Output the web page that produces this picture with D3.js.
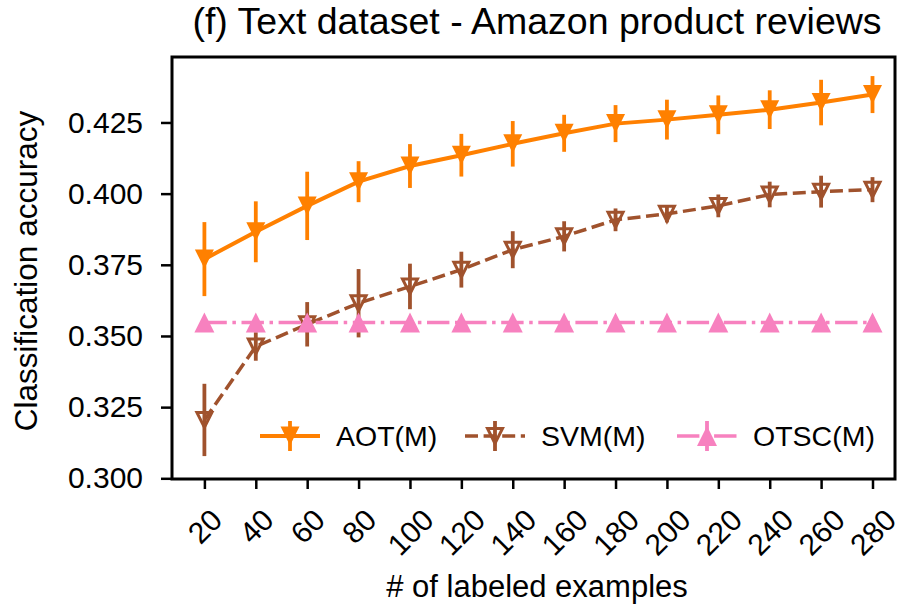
<!DOCTYPE html>
<html>
<head>
<meta charset="utf-8">
<script src="https://cdn.jsdelivr.net/npm/d3@7"></script>
<style>
  body { margin: 0; background: #fff; }
  svg { font-family: "Liberation Sans", Arial, sans-serif; }
</style>
</head>
<body>
<div class="chart"></div>
<script>
// labeled examples on the x axis
const xs = [20, 40, 60, 80, 100, 120, 140, 160, 180, 200, 220, 240, 260, 280]
const yTicks = [0.300, 0.325, 0.350, 0.375, 0.400, 0.425]

const aotMean = [0.3770, 0.3866, 0.3957, 0.4042, 0.4097, 0.4135, 0.4175, 0.4212, 0.4246, 0.4260, 0.4277, 0.4295, 0.4320, 0.4348]
const aotErr = [0.0130, 0.0107, 0.0120, 0.0072, 0.0077, 0.0075, 0.0080, 0.0065, 0.0065, 0.0070, 0.0068, 0.0068, 0.0080, 0.0065]

const svmMean = [0.3205, 0.3463, 0.3541, 0.3615, 0.3674, 0.3733, 0.3803, 0.3850, 0.3908, 0.3929, 0.3957, 0.3997, 0.4007, 0.4014]
const svmErr = [0.0127, 0.0050, 0.0078, 0.0120, 0.0080, 0.0063, 0.0065, 0.0053, 0.0040, 0.0030, 0.0040, 0.0045, 0.0056, 0.0044]

const otscMean = [0.3547, 0.3547, 0.3547, 0.3547, 0.3547, 0.3547, 0.3547, 0.3547, 0.3547, 0.3547, 0.3547, 0.3547, 0.3547, 0.3547]
const otscErr = [0, 0, 0, 0, 0, 0, 0, 0, 0, 0, 0, 0, 0, 0]

const seriesNames = ['AOT(M)', 'SVM(M)', 'OTSC(M)']

const width = 906, height = 611
const box = {left: 172, right: 895, top: 57, bottom: 479}

const svg = d3.select('.chart')
    .append('svg')
    .attr('width', width)
    .attr('height', height)

const x = d3.scaleLinear()
    .domain([20, 280])
    .range([204.4, 872.5])

const y = d3.scaleLinear()
    .domain([0.300, 0.448])
    .range([478.3, 57])

// marker shapes, s = half size
const triDown = s => `M0,${s}L${-s},${-s}L${s},${-s}Z`
const triUp = s => `M0,${-s}L${-s},${s}L${s},${s}Z`

const series = [
    {name: seriesNames[0], mean: aotMean, err: aotErr, color: '#ff8000', lw: 4, dash: null,
     path: triDown(9.5), fill: '#ff8000', mstroke: 'none', msw: 0},
    {name: seriesNames[1], mean: svmMean, err: svmErr, color: '#a0522d', lw: 3.5, dash: '13,5.6',
     path: triDown(7.5), fill: 'none', mstroke: '#a0522d', msw: 3},
    {name: seriesNames[2], mean: otscMean, err: otscErr, color: '#f781bf', lw: 3.5, dash: '22.4,5.6,3.5,5.6',
     path: triUp(10), fill: '#f781bf', mstroke: 'none', msw: 0}
]

// axes
const yAxis = svg.append('g')
    .attr('transform', `translate(${box.left},0)`)
    .call(d3.axisLeft(y).tickValues(yTicks).tickFormat(d3.format('.3f')).tickSize(11).tickPadding(18))
yAxis.select('.domain').remove()
yAxis.selectAll('line').attr('stroke', '#000').attr('stroke-width', 2.5)
yAxis.selectAll('text').attr('font-size', 30).attr('fill', '#000')
    .attr('font-family', '"Liberation Sans", Arial, sans-serif')

const xAxis = svg.append('g')
    .attr('transform', `translate(0,${box.bottom})`)
    .call(d3.axisBottom(x).tickValues(xs).tickSize(10).tickFormat(d => d))
xAxis.select('.domain').remove()
xAxis.selectAll('line').attr('stroke', '#000').attr('stroke-width', 2.5)

// rotated tick labels, bbox centred under tick
xAxis.selectAll('text').each(function() {
    const t = d3.select(this)
        .attr('font-size', 30)
        .attr('fill', '#000')
        .attr('font-family', '"Liberation Sans", Arial, sans-serif')
        .attr('text-anchor', 'middle')
        .attr('dy', '0.35em')
        .attr('y', 0)
    const w = this.getComputedTextLength()
    const h = 21
    const cy = 28 + (w + h) / (2 * Math.SQRT2)
    t.attr('y', cy).attr('transform', `rotate(-45,0,${cy})`)
})

// series
const line = d3.line().x(d => x(d[0])).y(d => y(d[1]))

series.forEach(s => {
    const pts = xs.map((v, i) => [v, s.mean[i], s.err[i]])
    const g = svg.append('g')

    g.append('path')
        .datum(pts)
        .attr('d', line)
        .attr('fill', 'none')
        .attr('stroke', s.color)
        .attr('stroke-width', s.lw)
        .attr('stroke-dasharray', s.dash)

    g.selectAll('line.err')
        .data(pts.filter(d => d[2] > 0))
        .enter()
        .append('line')
        .attr('class', 'err')
        .attr('x1', d => x(d[0]))
        .attr('x2', d => x(d[0]))
        .attr('y1', d => y(d[1] - d[2]))
        .attr('y2', d => y(d[1] + d[2]))
        .attr('stroke', s.color)
        .attr('stroke-width', 3.8)

    g.selectAll('path.mark')
        .data(pts)
        .enter()
        .append('path')
        .attr('class', 'mark')
        .attr('d', s.path)
        .attr('transform', d => `translate(${x(d[0])},${y(d[1])})`)
        .attr('fill', s.fill)
        .attr('stroke', s.mstroke)
        .attr('stroke-width', s.msw)
})

// frame
svg.append('rect')
    .attr('x', box.left)
    .attr('y', box.top)
    .attr('width', box.right - box.left)
    .attr('height', box.bottom - box.top)
    .attr('fill', 'none')
    .attr('stroke', '#000')
    .attr('stroke-width', 3)

// legend
const legendY = 436
const legendX = [260, 465, 677]
series.forEach((s, i) => {
    const lx = legendX[i]
    const g = svg.append('g')
    g.append('line')
        .attr('x1', lx).attr('x2', lx + 60)
        .attr('y1', legendY).attr('y2', legendY)
        .attr('stroke', s.color)
        .attr('stroke-width', s.lw)
        .attr('stroke-dasharray', s.dash)
    g.append('line')
        .attr('x1', lx + 30).attr('x2', lx + 30)
        .attr('y1', legendY - 15).attr('y2', legendY + 15)
        .attr('stroke', s.color)
        .attr('stroke-width', 3.8)
    g.append('path')
        .attr('d', s.path)
        .attr('transform', `translate(${lx + 30},${legendY})`)
        .attr('fill', s.fill)
        .attr('stroke', s.mstroke)
        .attr('stroke-width', s.msw)
    g.append('text')
        .attr('x', lx + 76)
        .attr('y', legendY)
        .attr('dy', '0.36em')
        .attr('font-size', 28.5)
        .text(s.name)
})

// labels
svg.append('text')
    .attr('x', 537)
    .attr('y', 34)
    .attr('text-anchor', 'middle')
    .attr('font-size', 37.5)
    .text('(f) Text dataset - Amazon product reviews')

svg.append('text')
    .attr('x', 537)
    .attr('y', 597)
    .attr('text-anchor', 'middle')
    .attr('font-size', 31)
    .text('# of labeled examples')

svg.append('text')
    .attr('transform', `translate(37,${(box.top + box.bottom) / 2 + 3}) rotate(-90)`)
    .attr('text-anchor', 'middle')
    .attr('font-size', 31.5)
    .text('Classification accuracy')
</script>
</body>
</html>
